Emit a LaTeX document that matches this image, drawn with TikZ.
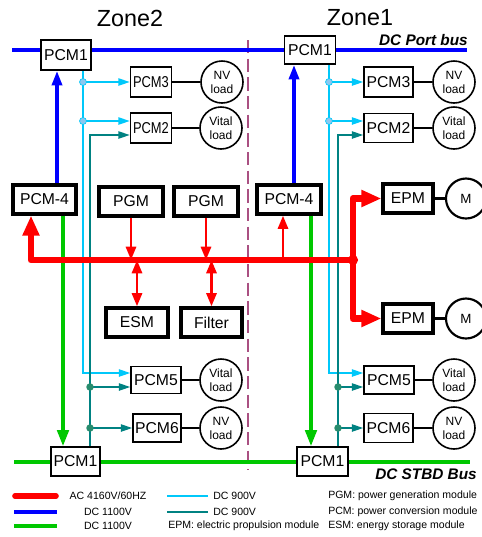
\documentclass[tikz,border=0pt]{standalone}
\usepackage{fontspec}
\setmainfont{Liberation Sans}
\usepackage{graphicx}
\usetikzlibrary{arrows.meta,calc}
\definecolor{busblue}{RGB}{0,0,255}
\definecolor{busgreen}{RGB}{0,200,0}
\definecolor{acred}{RGB}{255,0,0}
\definecolor{dccyan}{RGB}{0,200,250}
\definecolor{dcteal}{RGB}{0,130,130}
\definecolor{zoneline}{RGB}{170,80,130}
\definecolor{tapcyan}{RGB}{140,200,240}
\definecolor{tapteal}{RGB}{40,140,110}
\newcommand{\squeeze}[1]{\scalebox{0.82}[1]{#1}}

\tikzset{
  mod/.style={draw, fill=white, line width=1.2pt, inner sep=0pt, font=\fontsize{11.8}{13}\selectfont},
  modb/.style={mod, line width=2.4pt},
  sz/.style 2 args={minimum width=#1*0.75pt, minimum height=#2*0.75pt},
  load/.style={circle, draw, fill=white, line width=1.2pt, inner sep=0pt, minimum size=31.5pt, align=center, font=\fontsize{9}{10.5}\selectfont},
  motor/.style={load, minimum size=30pt, line width=1.6pt, font=\fontsize{10}{12}\selectfont},
  cyanar/.style={dccyan, line width=1.1pt, -{Triangle[length=8.5pt,width=5.5pt]}},
  tealar/.style={dcteal, line width=1.1pt, -{Triangle[length=8.5pt,width=5.5pt]}},
  bluear/.style={busblue, line width=2.6pt, -{Triangle[length=11pt,width=7.5pt]}},
  greenar/.style={busgreen, line width=2.6pt, -{Triangle[length=12pt,width=8.5pt]}},
  redar/.style={acred, line width=2.2pt, -{Triangle[length=10pt,width=7.5pt]}},
  redbus/.style={acred, line width=5pt, line join=round},
  redbig/.style={redbus, -{Triangle[length=15pt,width=12pt]}},
  legtxt/.style={font=\fontsize{7.9}{9}\selectfont, inner sep=0pt}
}

\begin{document}
\begin{tikzpicture}[x=0.75pt, y=-0.75pt]
\useasboundingbox (0,0) rectangle (482,537);

% Zone titles and divider
\node[font=\fontsize{17.5}{20}\selectfont] (zonetwo) at (130,18) {Zone2};
\node[font=\fontsize{17.5}{20}\selectfont] (zoneone) at (360,18) {Zone1};
\draw[zoneline, line width=1.6pt, dash pattern=on 10pt off 4pt] (248,40) -- (248,470);

% DC buses
\draw[busblue, line width=2.6pt] (12,50) -- (467,50);
\draw[busgreen, line width=2.6pt] (14,462) -- (470,462);
\node[font=\fontsize{11.5}{13}\selectfont\bfseries\itshape, anchor=base east, inner sep=0pt] (portlbl) at (468,45) {DC Port bus};
\node[font=\fontsize{11.5}{13}\selectfont\bfseries\itshape, anchor=base east, inner sep=0pt] (stbdlbl) at (477,479.5) {DC STBD Bus};

% Bus PCMs
\node[mod, sz={50}{30}] (p1port2) at (66,55) {PCM1};
\node[mod, sz={51}{28}] (p1port1) at (310,50) {PCM1};
\node[mod, sz={49}{29}] (p1stbd2) at (75.5,461.5) {PCM1};
\node[mod, sz={51}{29}] (p1stbd1) at (322.5,461.5) {PCM1};

% Zone2 load PCMs
\node[mod, sz={41}{30}] (p3z2) at (151,82) {\squeeze{PCM3}};
\node[mod, sz={41}{30}] (p2z2) at (151,128) {\squeeze{PCM2}};
\node[mod, sz={50}{27}] (p5z2) at (156,380) {PCM5};
\node[mod, sz={48}{28}] (p6z2) at (157,428) {PCM6};

% Zone1 load PCMs
\node[mod, sz={49}{30}] (p3z1) at (388.5,82) {PCM3};
\node[mod, sz={49}{29}] (p2z1) at (388.5,128) {PCM2};
\node[mod, sz={50}{28}] (p5z1) at (389,380) {PCM5};
\node[mod, sz={49}{29}] (p6z1) at (388.5,428) {PCM6};

% AC modules
\node[modb, sz={63}{29}] (p4z2) at (44.5,199.5) {PCM-4};
\node[modb, sz={64}{29}] (p4z1) at (289,199.5) {PCM-4};
\node[modb, sz={64}{29}] (pgm1) at (131,201.5) {PGM};
\node[modb, sz={64}{29}] (pgm2) at (206,201.5) {PGM};
\node[modb, sz={62}{29}] (esm) at (137,322.5) {ESM};
\node[modb, sz={61}{29}] (filter) at (211.5,322.5) {Filter};
\node[modb, sz={50}{29}] (epm1) at (408,198.5) {EPM};
\node[modb, sz={50}{29}] (epm2) at (408,318.5) {EPM};
\node[motor] (mot1) at (466,198.5) {M};
\node[motor] (mot2) at (466,318.5) {M};

% Loads
\foreach \n/\x/\y/\t in {l3z2/222/82/NV, l2z2/221/128/Vital, l5z2/221/380/Vital, l6z2/221/428/NV,
                         l3z1/454/82/NV, l2z1/454/128/Vital, l5z1/454/380/Vital, l6z1/454/428/NV} {
  \node[load] (\n) at (\x,\y) {\t\\load};
}
\foreach \a/\b in {p3z2/l3z2, p2z2/l2z2, p5z2/l5z2, p6z2/l6z2, p3z1/l3z1, p2z1/l2z1, p5z1/l5z1, p6z1/l6z1} {
  \draw[line width=1.2pt] (\a) -- (\b);
}
\draw[line width=2.2pt] (epm1) -- (mot1);
\draw[line width=2.2pt] (epm2) -- (mot2);

% Feeder positions
\coordinate (bx2) at (57,0);
\coordinate (bx1) at (294,0);
\coordinate (gx2) at (63,0);
\coordinate (gx1) at (311,0);
\coordinate (cx2) at (83,0);
\coordinate (cx1) at (329,0);
\coordinate (tx2) at (90,0);
\coordinate (tx1) at (338,0);
\foreach \m in {p2z2,p5z2,p2z1,p5z1} {
  \coordinate (\m-a) at ($(\m.west)+(0,-7)$);
  \coordinate (\m-b) at ($(\m.west)+(0,7)$);
}

% DC 1100V feeders
\draw[bluear] (p4z2.north -| bx2) -- (p1port2.south -| bx2);
\draw[bluear] (p4z1.north -| bx1) -- (p1port1.south -| bx1);
\draw[greenar] (p4z2.south -| gx2) -- (p1stbd2.north -| gx2);
\draw[greenar] (p4z1.south -| gx1) -- (p1stbd1.north -| gx1);

% DC 900V from port side
\draw[cyanar] (p1port2.south -| cx2) |- (p5z2-a);
\draw[cyanar] (cx2 |- p3z2.west) -- (p3z2.west);
\draw[cyanar] (cx2 |- p2z2-a) -- (p2z2-a);
\draw[cyanar] (p1port1.south -| cx1) |- (p5z1-a);
\draw[cyanar] (cx1 |- p3z1.west) -- (p3z1.west);
\draw[cyanar] (cx1 |- p2z1-a) -- (p2z1-a);
\foreach \p in {cx2 |- p3z2.west, cx2 |- p2z2-a, cx1 |- p3z1.west, cx1 |- p2z1-a} {
  \filldraw[draw=dccyan, fill=tapcyan, line width=0.5pt] (\p) circle (2.6pt);
}

% DC 900V from starboard side
\draw[tealar] (p1stbd2.north -| tx2) |- (p2z2-b);
\draw[tealar] (tx2 |- p5z2-b) -- (p5z2-b);
\draw[tealar] (tx2 |- p6z2.west) -- (p6z2.west);
\draw[tealar] (p1stbd1.north -| tx1) |- (p2z1-b);
\draw[tealar] (tx1 |- p5z1-b) -- (p5z1-b);
\draw[tealar] (tx1 |- p6z1.west) -- (p6z1.west);
\foreach \p in {tx2 |- p5z2-b, tx2 |- p6z2.west, tx1 |- p5z1-b, tx1 |- p6z1.west} {
  \fill[tapteal] (\p) circle (2.8pt);
}

% AC 4160V bus
\coordinate (jct) at (353,260);
\coordinate (rl) at (31,260);
\coordinate (rz1) at (283,260);
\draw[redbig] (jct) -| (p4z2.south -| rl);
\draw[redbig] (jct) |- (epm1.west);
\draw[redbig] (jct) |- (epm2.west);
\fill[acred] (jct) circle (3.8pt);
\draw[redar] (pgm1.south) -- (pgm1.south |- jct);
\draw[redar] (pgm2.south) -- (pgm2.south |- jct);
\draw[redar] (rz1) -- (p4z1.south -| rz1);
\draw[redar, {Triangle[length=10pt,width=7.5pt]}-{Triangle[length=10pt,width=7.5pt]}] (esm.north |- jct) -- (esm.north);
\draw[redar, {Triangle[length=10pt,width=7.5pt]}-{Triangle[length=10pt,width=7.5pt]}] (filter.north |- jct) -- (filter.north);

% Legend
\draw[acred, line width=4.2pt, line cap=round] (15,496) -- (56,496);
\draw[busblue, line width=2.4pt] (14,512) -- (57,512);
\draw[busgreen, line width=2.4pt] (14,526) -- (57,526);
\draw[dccyan, line width=1.1pt] (167,496) -- (208,496);
\draw[dcteal, line width=1.1pt] (167,512) -- (208,512);
\node[legtxt] (legac) at (108,496) {AC 4160V/60HZ};
\node[legtxt] (legblue) at (108,512) {DC 1100V};
\node[legtxt] (leggreen) at (108,526) {DC 1100V};
\node[legtxt, anchor=west] (legcyan) at (213,496) {DC 900V};
\node[legtxt, anchor=west] (legteal) at (213,512) {DC 900V};
\node[legtxt, anchor=west] (legepm) at (168,526) {EPM: electric propulsion module};
\node[legtxt, anchor=west] (legpgm) at (328,496) {PGM: power generation module};
\node[legtxt, anchor=west] (legpcm) at (328,512) {PCM: power conversion module};
\node[legtxt, anchor=west] (legesm) at (328,526) {ESM: energy storage module};
\end{tikzpicture}
\end{document}
